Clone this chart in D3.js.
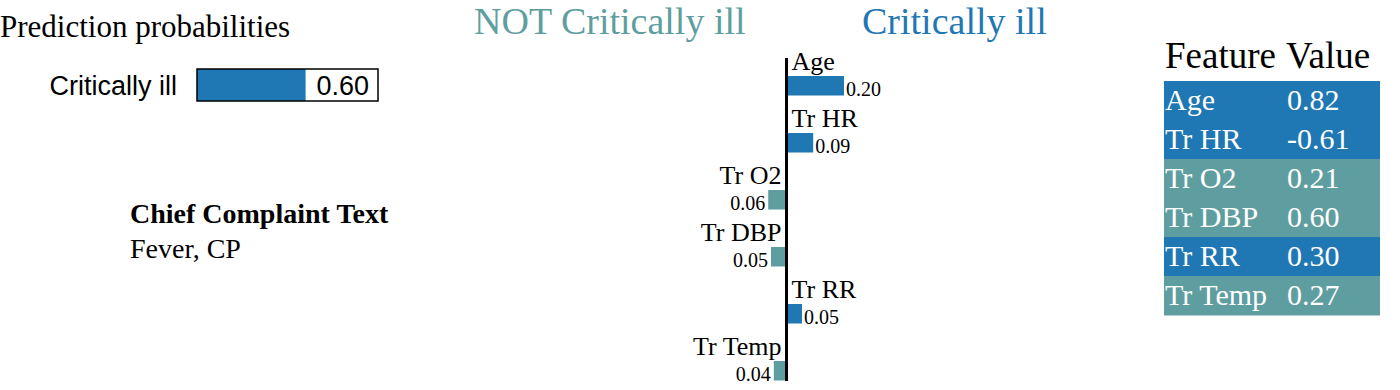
<!DOCTYPE html>
<html>
<head>
  <script src="https://cdn.jsdelivr.net/npm/d3@7.0.0/dist/d3.min.js"></script>
  <style>
    body { margin: 0; background: #fff; }
  </style>
</head>
<body>
  <div id="chart"></div>
  <script>
    // data
    var classNames = ["NOT Critically ill", "Critically ill"];
    var probLabel = "Critically ill";
    var probValue = 0.60;
    var features = ["Age", "Tr HR", "Tr O2", "Tr DBP", "Tr RR", "Tr Temp"];
    var weights = [0.20, 0.09, -0.06, -0.05, 0.05, -0.04];
    var featureValues = ["0.82", "-0.61", "0.21", "0.60", "0.30", "0.27"];
    var complaintTitle = "Chief Complaint Text";
    var complaintText = "Fever, CP";

    var blue = "#1f77b4", teal = "#5f9ea0";
    var serif = "'Liberation Serif', 'Times New Roman', serif";
    var sans = "'Liberation Sans', Arial, sans-serif";

    var svg = d3.select("#chart").append("svg")
      .attr("width", 1400)
      .attr("height", 390);

    // prediction probabilities
    svg.append("text")
      .attr("x", 0).attr("y", 37)
      .style("font-family", serif).style("font-size", "31px")
      .text("Prediction probabilities");

    var px = d3.scaleLinear().domain([0, 1]).range([197, 378]);
    svg.append("text")
      .attr("x", 177).attr("y", 95).attr("text-anchor", "end")
      .style("font-family", sans).style("font-size", "27px")
      .text(probLabel);
    svg.append("rect")
      .attr("x", px(0)).attr("y", 69)
      .attr("width", px(probValue) - px(0)).attr("height", 32)
      .attr("fill", blue);
    svg.append("rect")
      .attr("x", px(0)).attr("y", 69)
      .attr("width", px(1) - px(0)).attr("height", 32)
      .attr("fill", "none").attr("stroke", "#000").attr("stroke-width", 1.5);
    svg.append("text")
      .attr("x", px(1) - 9).attr("y", 95).attr("text-anchor", "end")
      .style("font-family", sans).style("font-size", "27px")
      .text(probValue.toFixed(2));

    // chief complaint text
    svg.append("text")
      .attr("x", 130).attr("y", 223)
      .style("font-family", serif).style("font-size", "28px").style("font-weight", "bold")
      .text(complaintTitle);
    svg.append("text")
      .attr("x", 130).attr("y", 258)
      .style("font-family", serif).style("font-size", "28px")
      .text(complaintText);

    // class headers
    svg.append("text")
      .attr("x", 474).attr("y", 34)
      .style("font-family", serif).style("font-size", "38px").attr("fill", teal)
      .text(classNames[0]);
    svg.append("text")
      .attr("x", 862).attr("y", 34)
      .style("font-family", serif).style("font-size", "38px").attr("fill", blue)
      .text(classNames[1]);

    // explanation bars
    var x = d3.scaleLinear().domain([0, 0.2]).range([786.5, 842.5]);
    var y = d3.scaleBand().domain(features).range([76, 418]);
    var barH = 19.5;

    var rows = svg.selectAll(".row")
      .data(features.map(function(f, i) { return { name: f, w: weights[i] }; }))
      .enter().append("g").attr("class", "row");

    rows.append("rect")
      .attr("x", function(d) { return d.w > 0 ? x(0) + 1.5 : x(d.w) - 1.5; })
      .attr("y", function(d) { return y(d.name); })
      .attr("width", function(d) { return Math.abs(x(d.w) - x(0)); })
      .attr("height", barH)
      .attr("fill", function(d) { return d.w > 0 ? blue : teal; });

    rows.append("text")
      .attr("x", function(d) { return d.w > 0 ? x(0) + 5 : x(0) - 5; })
      .attr("y", function(d) { return y(d.name) - 6; })
      .attr("text-anchor", function(d) { return d.w > 0 ? "start" : "end"; })
      .style("font-family", serif).style("font-size", "26px")
      .text(function(d) { return d.name; });

    rows.append("text")
      .attr("x", function(d) { return d.w > 0 ? x(d.w) + 3.5 : x(d.w) - 4.5; })
      .attr("y", function(d) { return y(d.name) + barH; })
      .attr("text-anchor", function(d) { return d.w > 0 ? "start" : "end"; })
      .style("font-family", serif).style("font-size", "20px")
      .text(function(d) { return Math.abs(d.w).toFixed(2); });

    svg.append("line")
      .attr("x1", x(0)).attr("x2", x(0))
      .attr("y1", 58).attr("y2", 381)
      .attr("stroke", "#000").attr("stroke-width", 3);

    // feature value table
    var tx = 1164, tw = 216;
    var ty = d3.scaleBand().domain(features).range([81, 315]);
    svg.append("text")
      .attr("x", tx + 1).attr("y", 68)
      .style("font-family", serif).style("font-size", "37px")
      .text("Feature");
    svg.append("text")
      .attr("x", tx + 122).attr("y", 68)
      .style("font-family", serif).style("font-size", "37px")
      .text("Value");

    var trows = svg.selectAll(".trow")
      .data(features.map(function(f, i) { return { name: f, w: weights[i], v: featureValues[i] }; }))
      .enter().append("g").attr("class", "trow");
    trows.append("rect")
      .attr("x", tx).attr("y", function(d) { return ty(d.name); })
      .attr("width", tw).attr("height", ty.bandwidth() + 0.5)
      .attr("fill", function(d) { return d.w > 0 ? blue : teal; });
    trows.append("text")
      .attr("x", tx + 1).attr("y", function(d) { return ty(d.name) + 29; })
      .attr("fill", "#fff")
      .style("font-family", serif).style("font-size", "30px")
      .text(function(d) { return d.name; });
    trows.append("text")
      .attr("x", tx + 123).attr("y", function(d) { return ty(d.name) + 29; })
      .attr("fill", "#fff")
      .style("font-family", serif).style("font-size", "30px")
      .text(function(d) { return d.v; });
  </script>
</body>
</html>
